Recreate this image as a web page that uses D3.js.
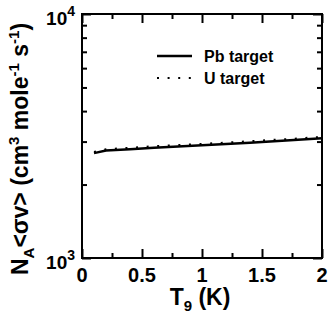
<!DOCTYPE html>
<html>
<head>
<meta charset="utf-8">
<script src="https://cdn.jsdelivr.net/npm/d3@7"></script>
<style>
  body { margin: 0; background: #fff; }
  text { font-family: "Liberation Sans", Arial, Helvetica, sans-serif; font-weight: bold; fill: #000; }
</style>
</head>
<body>
<div id="chart"></div>
<script>
// temperature grid (T9) and rates
var t9 = [0.1, 0.2, 0.4, 0.6, 0.8, 1.0, 1.2, 1.4, 1.6, 1.8, 2.0];
var pbRate = [2690, 2755, 2790, 2830, 2865, 2895, 2930, 2970, 3010, 3050, 3095];
var uRate  = [2720, 2790, 2830, 2870, 2905, 2935, 2970, 3010, 3050, 3090, 3135];
var xMajor = [0, 0.5, 1, 1.5, 2];
var xMinor = [0.25, 0.75, 1.25, 1.75];
var yMajor = [1000, 10000];
var yMinor = [2000, 3000, 4000, 5000, 6000, 7000, 8000, 9000];
var seriesNames = ["Pb target", "U target"];

var W = 332, H = 316;
var margin = {top: 14, right: 10, bottom: 58, left: 82};
var w = W - margin.left - margin.right, h = H - margin.top - margin.bottom;

var svg = d3.select("#chart").append("svg")
    .attr("width", W)
    .attr("height", H);

var g = svg.append("g").attr("transform", "translate(" + margin.left + "," + margin.top + ")");

var x = d3.scaleLinear().domain([0, 2]).range([0, w]);
var y = d3.scaleLog().domain([1000, 10000]).range([h, 0]);

// ticks, inward on all four sides
function tickAxis(axis, vals, len, tr) {
  var a = g.append("g").attr("transform", tr)
    .call(axis.tickValues(vals).tickSize(-len).tickFormat(""));
  a.select(".domain").remove();
  a.selectAll("line").attr("stroke", "#000").attr("stroke-width", 2);
  return a;
}
tickAxis(d3.axisBottom(x), xMajor, 9, "translate(0," + h + ")");
tickAxis(d3.axisBottom(x), xMinor, 5, "translate(0," + h + ")");
tickAxis(d3.axisTop(x), xMajor, 9, "translate(0,0)");
tickAxis(d3.axisTop(x), xMinor, 5, "translate(0,0)");
tickAxis(d3.axisLeft(y), yMajor, 9, "translate(0,0)");
tickAxis(d3.axisLeft(y), yMinor, 5, "translate(0,0)");
tickAxis(d3.axisRight(y), yMajor, 9, "translate(" + w + ",0)");
tickAxis(d3.axisRight(y), yMinor, 5, "translate(" + w + ",0)");

g.append("rect")
  .attr("width", w).attr("height", h)
  .attr("fill", "none").attr("stroke", "#000").attr("stroke-width", 2);

// x tick labels
g.selectAll(".xl").data(xMajor).enter().append("text")
  .attr("x", function(d) { return x(d); })
  .attr("y", h + 24)
  .attr("text-anchor", "middle")
  .style("font-size", "20px")
  .text(function(d) { return d; });

// y tick labels 10^3, 10^4
var yl = g.selectAll(".yl").data(yMajor).enter().append("text")
  .attr("x", -7)
  .attr("y", function(d) { return y(d) + 11; })
  .attr("text-anchor", "end")
  .style("font-size", "19px");
yl.append("tspan").text("10");
yl.append("tspan").attr("dy", -9).style("font-size", "14px")
  .text(function(d) { return Math.round(Math.log10(d)); });

// x title
var xt = svg.append("text")
  .attr("x", margin.left + w / 2 - 2)
  .attr("y", 305)
  .attr("text-anchor", "middle")
  .style("font-size", "23px");
xt.append("tspan").text("T");
xt.append("tspan").attr("dy", 6).style("font-size", "15px").text("9");
xt.append("tspan").attr("dy", -6).text(" (K)");

// y title
var yt = svg.append("text")
  .attr("transform", "translate(28,149) rotate(-90)")
  .attr("text-anchor", "middle")
  .style("font-size", "23px");
yt.append("tspan").text("N");
yt.append("tspan").attr("dy", 6).style("font-size", "15px").text("A");
yt.append("tspan").attr("dy", -6).text("<σv> (cm");
yt.append("tspan").attr("dy", -9).style("font-size", "15px").text("3");
yt.append("tspan").attr("dy", 9).text(" mole");
yt.append("tspan").attr("dy", -9).style("font-size", "15px").text("-1");
yt.append("tspan").attr("dy", 9).text(" s");
yt.append("tspan").attr("dy", -9).style("font-size", "15px").text("-1");
yt.append("tspan").attr("dy", 9).text(")");

// curves
var line = d3.line()
  .x(function(d) { return x(d[0]); })
  .y(function(d) { return y(d[1]); });

var dashes = [null, "2,8.6"];
[pbRate, uRate].forEach(function(rate, i) {
  g.append("path")
    .datum(t9.map(function(t, j) { return [t, rate[j]]; }))
    .attr("d", line)
    .attr("fill", "none")
    .attr("stroke", "#000")
    .attr("stroke-width", i == 0 ? 2.5 : 2)
    .attr("stroke-dasharray", dashes[i]);
});

// legend
var leg = g.selectAll(".leg").data(seriesNames).enter().append("g")
  .attr("transform", function(d, i) { return "translate(75," + (42 + i * 22) + ")"; });
leg.append("line")
  .attr("x1", 0).attr("x2", 35)
  .attr("stroke", "#000")
  .attr("stroke-width", function(d, i) { return i == 0 ? 2.5 : 2; })
  .attr("stroke-dasharray", function(d, i) { return dashes[i]; });
leg.append("text")
  .attr("x", 47).attr("y", 6)
  .style("font-size", "16px")
  .text(function(d) { return d; });
</script>
</body>
</html>
